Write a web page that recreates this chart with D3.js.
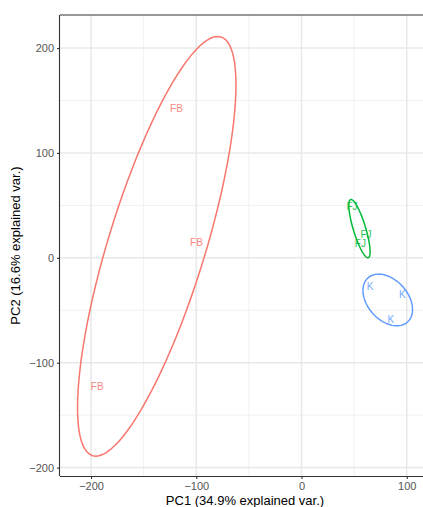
<!DOCTYPE html>
<html>
<head>
<meta charset="utf-8">
<script src="https://cdn.jsdelivr.net/npm/d3@7"></script>
<style>
  html, body { margin: 0; padding: 0; background: #fff; }
  svg { display: block; font-family: "Liberation Sans", Arial, sans-serif; }
</style>
</head>
<body>
<svg id="chart" width="423" height="507"></svg>
<script>
// PCA scores (PC1, PC2) for each sample, grouped by class
const groups = ["FB", "FJ", "K"];
const groupColors = ["#F8766D", "#00BA38", "#619CFF"];
const pc1FB = [-118.8, -99.8, -194.1];
const pc2FB = [141.9, 14.2, -123.1];
const pc1FJ = [48.0, 61.3, 55.9];
const pc2FJ = [48.5, 21.8, 13.2];
const pc1K = [65.1, 95.9, 84.8];
const pc2K = [-27.5, -34.5, -58.6];

const xTicks = [-200, -100, 0, 100];
const yTicks = [-200, -100, 0, 100, 200];
const xMinor = [-150, -50, 50, 150];
const yMinor = [-150, -50, 50, 150];
const xTitle = "PC1 (34.9% explained var.)";
const yTitle = "PC2 (16.6% explained var.)";
const ellipseProb = 0.68;

const samples = [
  { group: "FB", x: pc1FB, y: pc2FB },
  { group: "FJ", x: pc1FJ, y: pc2FJ },
  { group: "K", x: pc1K, y: pc2K }
];

const svg = d3.select("#chart");
const panel = { left: 60, top: 15, right: 440, bottom: 476 };

const x = d3.scaleLinear().domain([-229.5, 131.6]).range([panel.left, panel.right]);
const y = d3.scaleLinear().domain([-208, 231.5]).range([panel.bottom, panel.top]);
const color = d3.scaleOrdinal().domain(groups).range(groupColors);

// grid
const grid = svg.append("g");
grid.selectAll(".xmin").data(xMinor).join("line")
  .attr("x1", d => x(d)).attr("x2", d => x(d))
  .attr("y1", panel.top).attr("y2", panel.bottom)
  .attr("stroke", "#F0F0F0").attr("stroke-width", 1);
grid.selectAll(".ymin").data(yMinor).join("line")
  .attr("y1", d => y(d)).attr("y2", d => y(d))
  .attr("x1", panel.left).attr("x2", panel.right)
  .attr("stroke", "#F0F0F0").attr("stroke-width", 1);
grid.selectAll(".xmaj").data(xTicks).join("line")
  .attr("x1", d => x(d)).attr("x2", d => x(d))
  .attr("y1", panel.top).attr("y2", panel.bottom)
  .attr("stroke", "#E8E8E8").attr("stroke-width", 1.5);
grid.selectAll(".ymaj").data(yTicks).join("line")
  .attr("y1", d => y(d)).attr("y2", d => y(d))
  .attr("x1", panel.left).attr("x2", panel.right)
  .attr("stroke", "#E8E8E8").attr("stroke-width", 1.5);

// normal-probability ellipse from each group's covariance
const ed = Math.sqrt(-2 * Math.log(1 - ellipseProb));
function ellipsePath(xs, ys) {
  const n = xs.length;
  const mx = d3.mean(xs), my = d3.mean(ys);
  let sxx = 0, syy = 0, sxy = 0;
  for (let i = 0; i < n; i++) {
    sxx += (xs[i] - mx) ** 2;
    syy += (ys[i] - my) ** 2;
    sxy += (xs[i] - mx) * (ys[i] - my);
  }
  sxx /= n - 1; syy /= n - 1; sxy /= n - 1;
  // Cholesky factor of the covariance matrix
  const a = Math.sqrt(sxx), b = sxy / a, c = Math.sqrt(syy - b * b);
  const pts = d3.range(0, 101).map(k => {
    const t = 2 * Math.PI * k / 100;
    const u = Math.cos(t), v = Math.sin(t);
    return [mx + ed * (u * a), my + ed * (u * b + v * c)];
  });
  return d3.line().x(d => x(d[0])).y(d => y(d[1]))(pts);
}

svg.append("g").selectAll("path").data(samples).join("path")
  .attr("d", d => ellipsePath(d.x, d.y))
  .attr("fill", "none")
  .attr("stroke", d => color(d.group))
  .attr("stroke-width", 1.5);

// sample labels
const labelData = samples.flatMap(s => s.x.map((v, i) => ({ group: s.group, x: v, y: s.y[i] })));
svg.append("g").selectAll("text").data(labelData).join("text")
  .attr("x", d => x(d.x)).attr("y", d => y(d.y))
  .attr("text-anchor", "middle").attr("dominant-baseline", "central")
  .attr("font-size", 10)
  .attr("fill", d => color(d.group))
  .attr("opacity", 0.85)
  .text(d => d.group);

// panel border
svg.append("line").attr("x1", panel.left).attr("x2", panel.right)
  .attr("y1", panel.top).attr("y2", panel.top)
  .attr("stroke", "#333").attr("stroke-width", 1.1);

// axes
const minus = d => d3.format("")(d).replace("-", "\u2212");
const xAxis = svg.append("g").attr("transform", `translate(0,${panel.bottom})`)
  .call(d3.axisBottom(x).tickValues(xTicks).tickSize(3).tickPadding(3).tickFormat(minus));
const yAxis = svg.append("g").attr("transform", `translate(${panel.left},0)`)
  .call(d3.axisLeft(y).tickValues(yTicks).tickSize(3).tickPadding(3).tickFormat(minus));
[xAxis, yAxis].forEach(g => {
  g.select(".domain").attr("stroke", "#333").attr("stroke-width", 1.1);
  g.selectAll(".tick line").attr("stroke", "#333").attr("stroke-width", 1.1);
  g.selectAll(".tick text").attr("fill", "#555").attr("font-size", 11)
    .attr("font-family", "Liberation Sans, Arial, sans-serif");
});
xAxis.select(".domain").attr("d", `M${panel.left},0.5H${panel.right}`);
yAxis.select(".domain").attr("d", `M-0.5,${panel.top}V${panel.bottom}`);

// axis titles
svg.append("text").attr("x", (panel.left + 430) / 2).attr("y", 505)
  .attr("text-anchor", "middle").attr("font-size", 13).attr("fill", "#000")
  .text(xTitle);
svg.append("text")
  .attr("transform", `translate(20,${(panel.top + panel.bottom) / 2}) rotate(-90)`)
  .attr("text-anchor", "middle").attr("font-size", 13).attr("fill", "#000")
  .text(yTitle);
</script>
</body>
</html>
